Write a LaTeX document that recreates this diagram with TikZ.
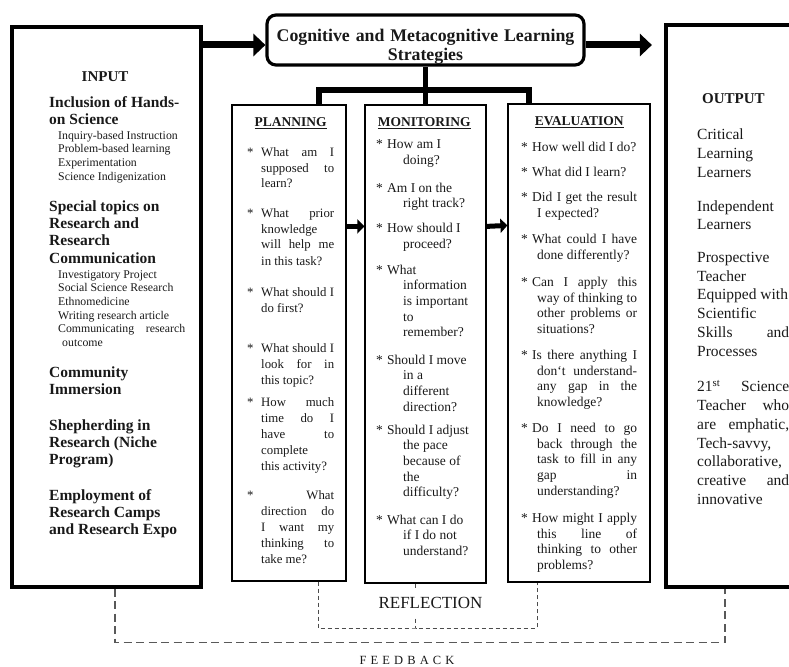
\documentclass[tikz,border=0pt]{standalone}
\usepackage{fontspec}
\setmainfont{Liberation Serif}
\usetikzlibrary{arrows.meta}
\newcommand{\qitem}[2]{\par\hangindent=#2\hangafter=1\noindent\makebox[#1][l]{*}}

\begin{document}
\begin{tikzpicture}
  [x=1pt,y=-1pt,
   every node/.style={text=black!90},
   framebox/.style={draw,line width=3.2pt,inner sep=0pt},
   colbox/.style={draw,line width=1.2pt,inner sep=0pt},
   txt/.style={inner sep=0pt,anchor=base west,align=justify,
     execute at begin node={\setlength{\parindent}{0pt}\setlength{\parskip}{0pt}}},
   bigarrow/.style={line width=7pt,-{Triangle[length=12pt,width=22pt]}},
   colarrow/.style={line width=5pt,-{Triangle[length=7pt,width=14pt]}},
   bar/.style={line width=5.5pt},
   refl/.style={line width=1pt,dash pattern=on 4pt off 3pt,black!70},
   fdbk/.style={line width=1.2pt,dash pattern=on 8pt off 4.5pt,black!65}]
  \useasboundingbox (0,0) rectangle (789,666);
  \clip (0,0) rectangle (789,666);

  \node[framebox,minimum width=189pt,minimum height=560pt] (inp) at (106.5,307) {};
  \node[framebox,minimum width=134pt,minimum height=562pt] (outp) at (733,306) {};
  \node[framebox,rounded corners=9pt,font=\fontsize{17.8}{19}\bfseries,
        text width=314pt,align=center,inner xsep=1.5pt,inner ysep=3pt,
        text height=24pt,text depth=20pt] (strat) at (425.5,40)
        {Cognitive and Metacognitive Learning\\Strategies};
  \node[colbox,minimum width=114pt,minimum height=476pt] (plan) at (289,343) {};
  \node[colbox,minimum width=121pt,minimum height=478pt] (mon) at (425.5,344) {};
  \node[colbox,minimum width=142pt,minimum height=478pt] (eval) at (579,343) {};

  \draw[bigarrow] (inp.east |- 0,45) -- (strat.west |- 0,45);
  \draw[bigarrow,shorten >=12.5pt] (strat.east |- 0,45) -- (outp.west |- 0,45);
  \draw[bar] (strat.south) -- (mon.north);
  \draw[bar] ([xshift=30pt]plan.north) |- (strat.south |- 0,90) -| ([xshift=-50pt]eval.north);
  \foreach \from/\to in {plan/mon,mon/eval}
    \draw[colarrow] ([yshift=-122pt]\from.north east) -- ([yshift=-122pt]\to.north west);

  \node[txt,text width=136pt,font=\fontsize{15.5}{17.3}\bfseries] (inptxt) at (49,82) {%
    \hspace*{32.5pt}{\fontsize{15}{17.3}\selectfont INPUT}\par\vspace{7.7pt}
    Inclusion of Hands-\newline on Science\par\vspace{1.4pt}
    {\fontsize{11.8}{13.6}\mdseries\leftskip=9pt Inquiry-based Instruction\newline Problem-based learning\newline Experimentation\newline Science Indigenization\par}\vspace{13.9pt}
    Special topics on\newline Research and\newline Research\newline Communication\par\vspace{1.5pt}
    {\fontsize{11.8}{13.6}\mdseries\leftskip=9pt Investigatory Project\newline Social Science Research\newline Ethnomedicine\newline Writing research article\par
     \hangindent=4pt\hangafter=1 Communicating research\linebreak outcome\par}\vspace{13.7pt}
    Community\newline Immersion\par\vspace{18.4pt}
    Shepherding in\newline Research (Niche\newline Program)\par\vspace{18.1pt}
    Employment of\newline Research Camps\newline and Research Expo\par};

  \node[txt,text width=87pt,font=\fontsize{12.8}{16}\selectfont] (plantxt) at (247,126.5) {%
    \makebox[\linewidth]{\fontsize{13.5}{16}\bfseries\underline{PLANNING}}\par\vspace{13.5pt}
    \qitem{14pt}{14pt}What am I\linebreak supposed to\linebreak learn?\par\vspace{13pt}
    \qitem{14pt}{14pt}What prior\linebreak knowledge\linebreak will help me\linebreak in this task?\par\vspace{15pt}
    \qitem{14pt}{14pt}What should I\linebreak do first?\par\vspace{24pt}
    \qitem{14pt}{14pt}What should I\linebreak look for in\linebreak this topic?\par\vspace{6pt}
    \qitem{14pt}{14pt}How much\linebreak time do I\linebreak have to\linebreak complete\linebreak this activity?\par\vspace{13pt}
    \qitem{14pt}{14pt}\hfill What\linebreak direction do\linebreak I want my\linebreak thinking to\linebreak take me?\par};

  \node[txt,text width=98pt,font=\fontsize{13.5}{15.6}\selectfont] (montxt) at (376,126.5) {%
    \makebox[96pt]{\bfseries\underline{MONITORING}}\par\vspace{6.4pt}
    \qitem{11pt}{27pt}How am I\newline doing?\par\vspace{12.4pt}
    \qitem{11pt}{27pt}Am I on the\newline right track?\par\vspace{9.4pt}
    \qitem{11pt}{27pt}How should I\newline proceed?\par\vspace{10.4pt}
    \qitem{11pt}{27pt}What\newline information\newline is important\newline to\newline remember?\par\vspace{12pt}
    \qitem{11pt}{27pt}Should I move\newline in a\newline different\newline direction?\par\vspace{7.6pt}
    \qitem{11pt}{27pt}Should I adjust\newline the pace\newline because of\newline the\newline difficulty?\par\vspace{12pt}
    \qitem{11pt}{27pt}What can I do\newline if I do not\newline understand?\par};

  \node[txt,text width=116pt,font=\fontsize{13.5}{15.7}\selectfont] (evaltxt) at (521,125.5) {%
    \makebox[\linewidth]{\bfseries\underline{EVALUATION}}\par\vspace{10.3pt}
    \qitem{11pt}{16pt}How well did I do?\par\vspace{9.3pt}
    \qitem{11pt}{16pt}What did I learn?\par\vspace{9.3pt}
    \qitem{11pt}{16pt}Did I get the result\linebreak I expected?\par\vspace{10.6pt}
    \qitem{11pt}{16pt}What could I have\linebreak done differently?\par\vspace{11.6pt}
    \qitem{11pt}{16pt}Can I apply this\linebreak way of thinking to\linebreak other problems or\linebreak situations?\par\vspace{10.2pt}
    \qitem{11pt}{16pt}Is there anything I\linebreak don`t understand-\linebreak any gap in the\linebreak knowledge?\par\vspace{10.2pt}
    \qitem{11pt}{16pt}Do I need to go\linebreak back through the\linebreak task to fill in any\linebreak gap in\linebreak understanding?\par\vspace{11.5pt}
    \qitem{11pt}{16pt}How might I apply\linebreak this line of\linebreak thinking to other\linebreak problems?\par};

  \node[txt,text width=92pt,font=\fontsize{15.5}{18.8}\selectfont] (outptxt) at (697,104) {%
    \hspace*{5pt}{\fontsize{15}{18.8}\bfseries OUTPUT}\par\vspace{17pt}
    Critical\newline Learning\newline Learners\par\vspace{15pt}
    Independent\newline Learners\par\vspace{13.5pt}
    Prospective\newline Teacher\newline Equipped with\newline Scientific\newline Skills and\linebreak Processes\par\vspace{16.5pt}
    21\textsuperscript{st} Science\linebreak Teacher who\linebreak are emphatic,\linebreak Tech-savvy,\newline collaborative,\newline creative and\linebreak innovative\par};

  \coordinate (rfl) at (415.5,628);
  \draw[refl] ([xshift=29pt]plan.south) |- (rfl) -| ([xshift=-42pt]eval.south);
  \draw[refl] (mon.south -| rfl) -- (rfl);
  \node[fill=white,inner xsep=12pt,inner ysep=9pt,font=\fontsize{17}{20}\selectfont] (refltxt) at (430.5,603) {REFLECTION};

  \draw[fdbk] ([xshift=8.5pt]inp.south) -- ++(0,54) -| ([xshift=-8pt]outp.south);
  \node[font=\fontsize{12.5}{15}\selectfont\addfontfeature{LetterSpace=33}] (fb) at (407,660) {FEEDBACK};
\end{tikzpicture}
\end{document}
